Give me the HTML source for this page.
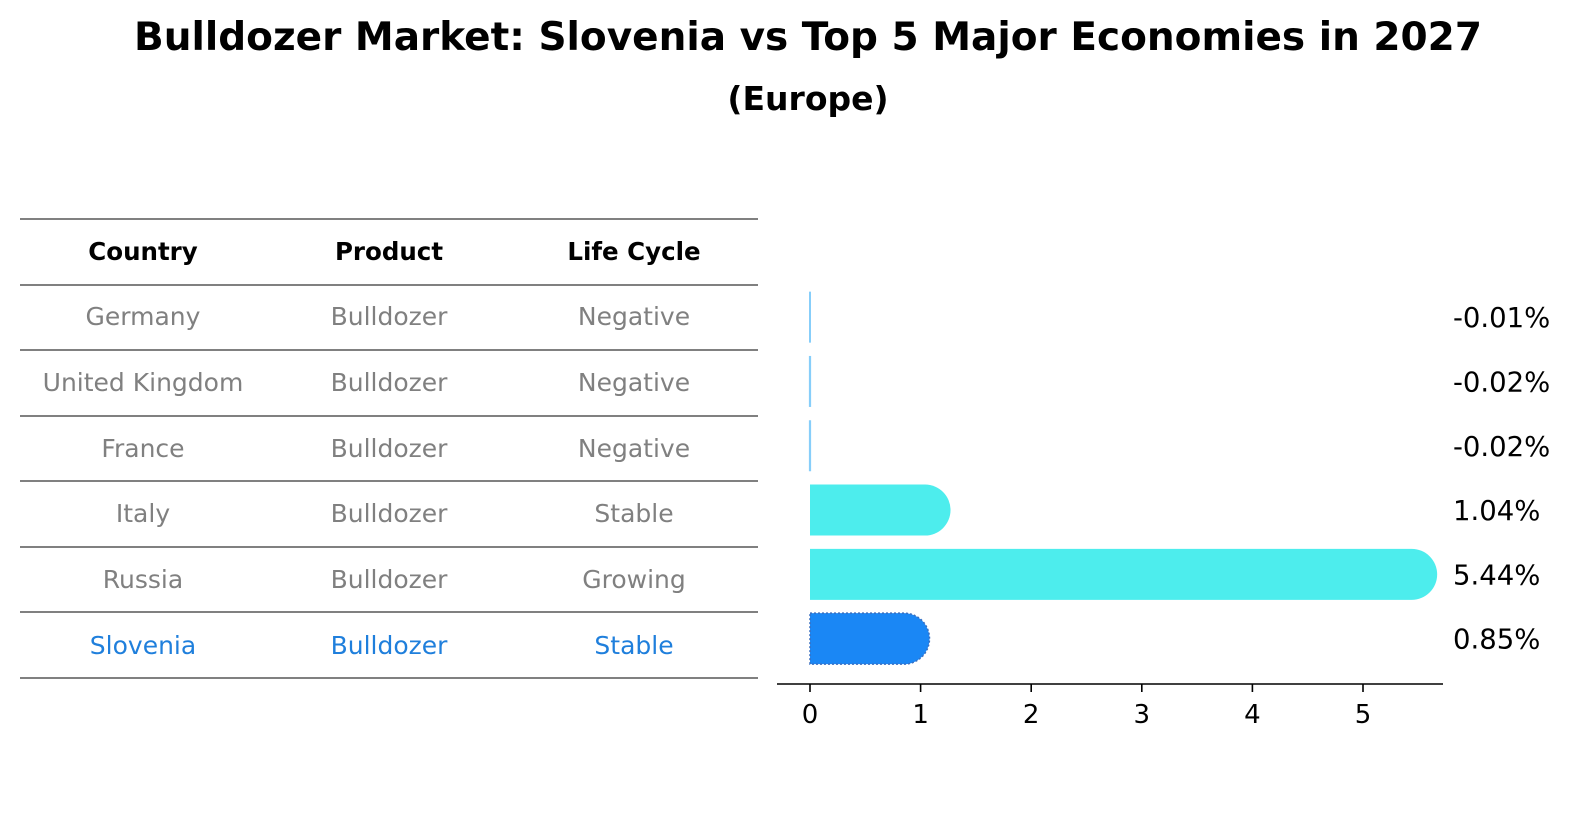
<!DOCTYPE html>
<html><head><meta charset="utf-8">
<style>
html,body{margin:0;padding:0;background:#fff;}
svg text{font-family:"DejaVu Sans","Liberation Sans",sans-serif;}
</style></head>
<body>
<svg id="chart" width="1596" height="823" viewBox="0 0 1596 823" xmlns="http://www.w3.org/2000/svg">
<text x="808" y="50" text-anchor="middle" font-size="39" font-weight="bold" fill="#000">Bulldozer Market: Slovenia vs Top 5 Major Economies in 2027</text>
<text x="808" y="110" text-anchor="middle" font-size="33" font-weight="bold" fill="#000">(Europe)</text>
<g id="table"></g>
<g id="bars"></g>
</svg>
<script>
const countries = ["Germany","United Kingdom","France","Italy","Russia","Slovenia"];
const products = ["Bulldozer","Bulldozer","Bulldozer","Bulldozer","Bulldozer","Bulldozer"];
const lifeCycles = ["Negative","Negative","Negative","Stable","Growing","Stable"];
const values = [-0.01,-0.02,-0.02,1.04,5.44,0.85];
const valueLabels = ["-0.01%","-0.02%","-0.02%","1.04%","5.44%","0.85%"];
const ticks = [0,1,2,3,4,5];

const NS="http://www.w3.org/2000/svg";
function mk(tag, attrs, parent, txt){
  const e=document.createElementNS(NS,tag);
  for(const k in attrs) e.setAttribute(k,attrs[k]);
  if(txt!==undefined) e.textContent=txt;
  parent.appendChild(e);
  return e;
}
const tbl=document.getElementById('table');
const lineYs=[219,285,350,416,481,547,612,678];
lineYs.forEach((y,i)=>{
  const l=mk('line',{x1:20,x2:758,y1:y,y2:y,stroke:'#000','stroke-width':1.1},tbl);
  
  
});
const colX=[143,389,634];
["Country","Product","Life Cycle"].forEach((h,i)=>{
  const t=mk('text',{x:colX[i],y:260,'text-anchor':'middle','font-size':24.5,'font-weight':'bold',fill:'#000'},tbl,h);
  
  
});
const rowC=[316,382,448,513,579,645];
countries.forEach((c,i)=>{
  const col = i===countries.length-1 ? '#1f7fdc' : '#808080';
  [c,products[i],lifeCycles[i]].forEach((v,j)=>{
    const t=mk('text',{x:colX[j],y:rowC[i]+9,'text-anchor':'middle','font-size':25,fill:col},tbl,v);
    
    
  });
});

const bars=document.getElementById('bars');
const x0=810, pxPerUnit=110.6;
function xs(v){return x0+v*pxPerUnit;}
const bandTop=285, bandStep=64.3, barH=51;
function yc(i){return bandTop+bandStep*i+bandStep/2;}
values.forEach((v,i)=>{
  const cy=yc(i), r=barH/2;
  let g;
  if(v<=0){
    const w=Math.max(2,Math.abs(xs(v)-x0));
    g=mk('rect',{x:x0-w/2,y:cy-r,width:w,height:barH,fill:'#87cefa'},bars);
  } else {
    const xe=xs(v);
    const d=`M${x0},${cy-r} L${xe},${cy-r} A${r},${r} 0 0 1 ${xe},${cy+r} L${x0},${cy+r} Z`;
    const isFocus=i===values.length-1;
    g=mk('path',{d:d,fill:isFocus?'#1a87f5':'#4deded',stroke:isFocus?'#3a6fc0':'none','stroke-width':isFocus?1.5:0,'stroke-dasharray':isFocus?'2,2':'none'},bars);
  }
  
  
  const t=mk('text',{x:1453,y:cy+10,'font-size':27.5,fill:'#000'},bars,valueLabels[i]);
  
  
});
const ax=mk('line',{x1:777,x2:1443,y1:684,y2:684,stroke:'#000','stroke-width':1.6},bars);


ticks.forEach(tv=>{
  const tm=mk('line',{x1:xs(tv),x2:xs(tv),y1:684,y2:692,stroke:'#000','stroke-width':1.6},bars);
  
  
  const tl=mk('text',{x:xs(tv),y:723,'text-anchor':'middle','font-size':26,fill:'#000'},bars,String(tv));
  
  
});
</script>
</body></html>
